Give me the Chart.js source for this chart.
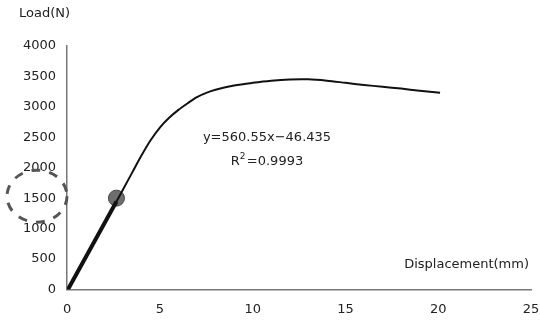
<!DOCTYPE html>
<html>
<head>
<meta charset="utf-8">
<script src="https://cdn.jsdelivr.net/npm/chart.js@4.4.1/dist/chart.umd.min.js"></script>
<style>
  html, body { margin: 0; padding: 0; background: #fff; }
</style>
</head>
<body>
<canvas id="chart" width="540" height="326"></canvas>
<script>
// Load-displacement curve
const displacement = [0, 0.5, 1, 1.5, 2, 2.5, 3, 3.5, 4, 4.5, 5, 5.5, 6, 6.5, 7, 7.5, 8, 9, 10, 11, 12, 13, 14, 15, 16, 17, 18, 19, 20.1];
const load = [0, 240, 515, 795, 1075, 1355, 1635, 1915, 2195, 2450, 2660, 2820, 2950, 3060, 3160, 3230, 3280, 3350, 3395, 3430, 3450, 3452, 3430, 3395, 3360, 3330, 3300, 3265, 3230];

// thick linear-fit stretch and the marked point
const fitX = [0.05, 2.66];
const fitY = [0, 1445];
const markX = [2.66];
const markY = [1500];

const xTicks = [0, 5, 10, 15, 20, 25];
const yTicks = [0, 500, 1000, 1500, 2000, 2500, 3000, 3500, 4000];

const equation = 'y=560.55x\u221246.435';
const rSquared = '=0.9993';

const FONT = 'DejaVu Sans';

const toPoints = (xs, ys) => xs.map((x, i) => ({ x: x, y: ys[i] }));

// extra texts: axis titles, equation, dashed ellipse round 1500
const extras = {
    id: 'extras',
    afterDraw(chart) {
        const c = chart.ctx;
        const y = chart.scales.y;
        c.save();
        c.fillStyle = '#222';
        c.font = '13px "' + FONT + '"';
        c.textBaseline = 'middle';
        c.textAlign = 'left';
        c.fillText('Load(N)', 19, 14);
        c.textAlign = 'right';
        c.fillText('Displacement(mm)', 529, 265);

        c.textAlign = 'center';
        c.fillText(equation, 267, 138);
        // R^2 line
        const rw = c.measureText('R').width;
        const restW = c.measureText(rSquared).width;
        const total = rw + 7 + restW;
        let sx = 267 - total / 2;
        c.textAlign = 'left';
        c.fillText('R', sx, 162);
        c.font = '9px "' + FONT + '"';
        c.fillText('2', sx + rw, 157);
        c.font = '13px "' + FONT + '"';
        c.fillText(rSquared, sx + rw + 7, 162);

        // dashed ellipse
        c.strokeStyle = '#555';
        c.lineWidth = 3;
        c.setLineDash([9, 9]);
        c.beginPath();
        c.ellipse(37, y.getPixelForValue(1500) - 2, 30, 26, 0, 0, Math.PI * 2);
        c.stroke();
        c.restore();
    }
};

const ctx = document.getElementById('chart').getContext('2d');
const chart = new Chart(ctx, {
    type: 'line',
    data: {
        datasets: [{
            data: toPoints(displacement, load),
            borderColor: '#111',
            borderWidth: 2,
            pointRadius: 0,
            tension: 0.3,
            fill: false
        }, {
            data: toPoints(fitX, fitY),
            borderColor: '#111',
            borderWidth: 4,
            pointRadius: 0,
            fill: false
        }, {
            data: toPoints(markX, markY),
            showLine: false,
            pointRadius: 8,
            pointBackgroundColor: '#6e6e6e',
            pointBorderColor: '#444',
            pointBorderWidth: 1
        }]
    },
    options: {
        responsive: false,
        animation: false,
        layout: { padding: { left: 17, right: 9, top: 46, bottom: 1 } },
        plugins: {
            legend: { display: false },
            tooltip: { enabled: false }
        },
        scales: {
            x: {
                type: 'linear',
                min: 0,
                max: 25,
                afterBuildTicks: (s) => { s.ticks = xTicks.map(v => ({ value: v })); },
                afterFit: (s) => { s.paddingRight = 0; },
                grid: { display: false, drawTicks: true, tickLength: 4, tickColor: '#777' },
                border: { display: true, color: '#777', width: 1.5, dash: [1, 1] },
                ticks: { color: '#222', font: { family: FONT, size: 13 }, padding: 8, callback: v => String(v) }
            },
            y: {
                min: 0,
                max: 4000,
                afterBuildTicks: (s) => { s.ticks = yTicks.map(v => ({ value: v })); },
                grid: { display: false, drawTicks: true, tickLength: 5, tickColor: '#777' },
                border: { display: true, color: '#777', width: 1.5, dash: [1, 1] },
                ticks: { color: '#222', font: { family: FONT, size: 13 }, padding: 6, callback: v => String(v) }
            }
        }
    },
    plugins: [extras]
});
</script>
</body>
</html>
